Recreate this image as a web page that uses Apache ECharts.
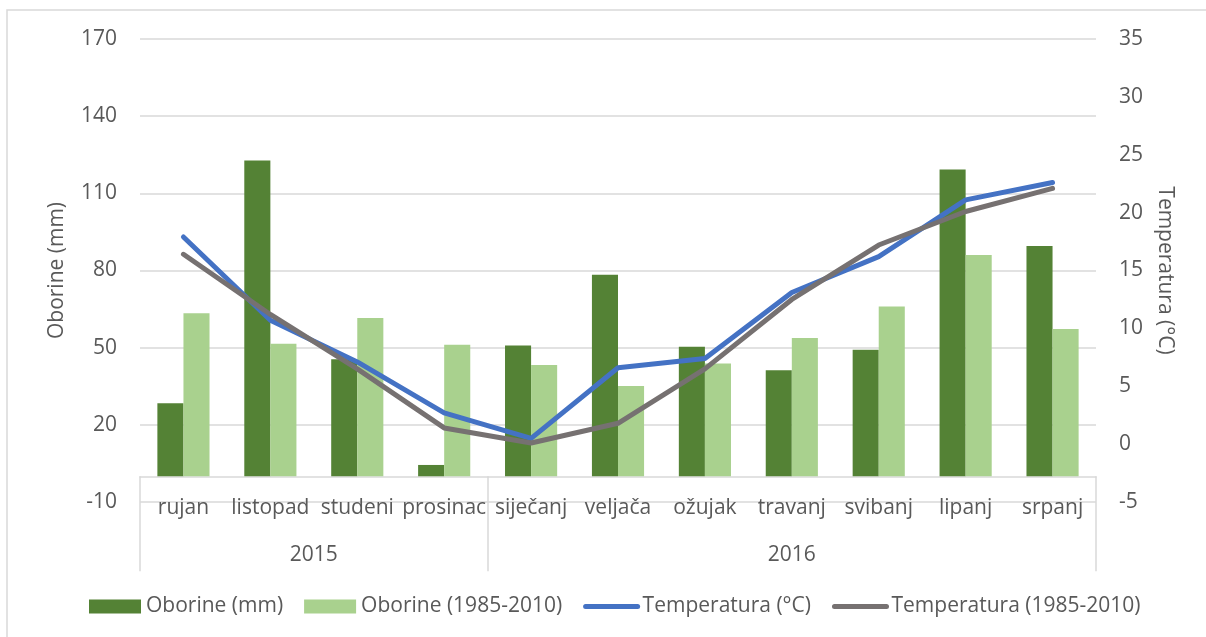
<!DOCTYPE html>
<html>
<head>
<meta charset="utf-8">
<script src="https://cdn.jsdelivr.net/npm/echarts@6/dist/echarts.min.js"></script>
<style>
  body { margin: 0; background: #fff; }
  #box { width: 1206px; height: 637px; }
</style>
</head>
<body>
<div id="box"></div>
<script>
var months = ["rujan", "listopad", "studeni", "prosinac", "siječanj", "veljača", "ožujak", "travanj", "svibanj", "lipanj", "srpanj"];
var years = ["2015", "2016"];
var yearBounds = [0, 4, 11];
var yearCenters = [2, 7.5];
var oborine = [28.4, 122.8, 45.5, 4.4, 50.8, 78.3, 50.4, 41.2, 49.2, 119.3, 89.5];
var oborineProsjek = [63.4, 51.5, 61.5, 51.1, 43.3, 35.1, 43.8, 53.8, 66.0, 86.0, 57.3];
var temperatura = [17.9, 10.7, 7.1, 2.7, 0.5, 6.6, 7.4, 13.1, 16.2, 21.1, 22.6];
var temperaturaProsjek = [16.4, 11.2, 6.5, 1.4, 0.1, 1.8, 6.5, 12.5, 17.2, 20.1, 22.1];

var font = "'Open Sans', sans-serif";
var grey = "#595959";
var lineCol = "#d9d9d9";
var fs = 21;

var myChart = echarts.init(document.getElementById("box"));
var option = {
  textStyle: { fontFamily: font },
  graphic: [
    {
      type: "rect",
      shape: { x: 7, y: 10, width: 1230, height: 660 },
      style: { fill: "none", stroke: lineCol, lineWidth: 1.5 },
    },
  ],
  grid: { left: 140, right: 110, top: 39, bottom: 135 },
  legend: {
    left: 84,
    top: 591,
    itemWidth: 52,
    itemHeight: 14,
    itemGap: 21,
    textStyle: { fontFamily: font, fontSize: fs, color: grey },
    data: [
      { name: "Oborine (mm)", icon: "rect" },
      { name: "Oborine (1985-2010)", icon: "rect" },
      { name: "Temperatura (°C)", itemStyle: { opacity: 0 }, lineStyle: { width: 5, cap: "round" } },
      { name: "Temperatura (1985-2010)", itemStyle: { opacity: 0 }, lineStyle: { width: 5, cap: "round" } },
    ],
  },
  xAxis: [
    {
      type: "category",
      data: months,
      axisLine: { onZero: true, onZeroAxisIndex: 0, lineStyle: { color: lineCol, width: 1.5 } },
      axisTick: { show: false },
      axisLabel: { margin: -4, fontSize: fs, color: grey, fontFamily: font, interval: 0 },
    },
    {
      // druga razina osi: godine
      type: "value",
      min: 0,
      max: 11,
      position: "bottom",
      axisLine: { show: false, onZero: true, onZeroAxisIndex: 0 },
      splitLine: { show: false },
      axisTick: {
        show: true,
        customValues: yearBounds,
        length: 95,
        lineStyle: { color: lineCol, width: 1.5 },
      },
      axisLabel: {
        customValues: yearCenters,
        margin: 43,
        fontSize: fs,
        color: grey,
        fontFamily: font,
        formatter: function (v) {
          return v < 4 ? years[0] : years[1];
        },
      },
    },
  ],
  yAxis: [
    {
      type: "value",
      min: -10,
      max: 170,
      interval: 30,
      name: "Oborine (mm)",
      nameLocation: "middle",
      nameGap: 72,
      nameTextStyle: { fontSize: fs, color: grey, fontFamily: font },
      axisLine: { show: false },
      axisTick: { show: false },
      axisLabel: { margin: 23, fontSize: fs, color: grey, fontFamily: font },
      splitLine: { lineStyle: { color: lineCol, width: 1.5 } },
    },
    {
      type: "value",
      min: -5,
      max: 35,
      interval: 5,
      name: "Temperatura (°C)",
      nameLocation: "middle",
      nameGap: 58,
      nameRotate: -90,
      nameTextStyle: { fontSize: fs, color: grey, fontFamily: font },
      axisLine: { show: false },
      axisTick: { show: false },
      axisLabel: { margin: 23, fontSize: fs, color: grey, fontFamily: font },
      splitLine: { show: false },
    },
  ],
  series: [
    {
      name: "Oborine (mm)",
      type: "bar",
      data: oborine,
      barGap: "0%",
      barCategoryGap: "40%",
      itemStyle: { color: "#548235" },
    },
    {
      name: "Oborine (1985-2010)",
      type: "bar",
      data: oborineProsjek,
      barGap: "0%",
      barCategoryGap: "40%",
      itemStyle: { color: "#a9d18e" },
    },
    {
      name: "Temperatura (°C)",
      type: "line",
      yAxisIndex: 1,
      data: temperatura,
      symbol: "none",
      lineStyle: { color: "#4472c4", width: 5, cap: "round", join: "round" },
      itemStyle: { color: "#4472c4" },
    },
    {
      name: "Temperatura (1985-2010)",
      type: "line",
      yAxisIndex: 1,
      data: temperaturaProsjek,
      symbol: "none",
      lineStyle: { color: "#767171", width: 5, cap: "round", join: "round" },
      itemStyle: { color: "#767171" },
    },
  ],
};
myChart.setOption(option);
</script>
</body>
</html>
